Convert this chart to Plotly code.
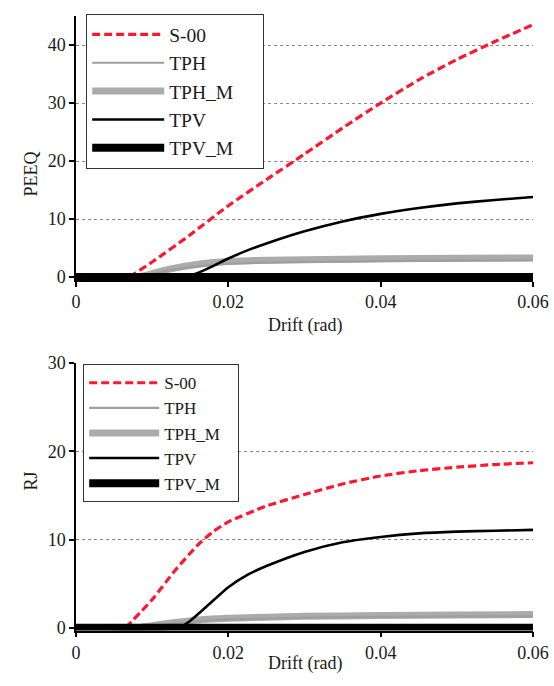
import plotly.graph_objects as go

# ---- Data ----
# Top panel: PEEQ vs drift
drift_s00_peeq = [0.007, 0.01, 0.015, 0.02, 0.025, 0.03, 0.035, 0.04, 0.045, 0.05, 0.055, 0.06]
peeq_s00 = [0, 2.6, 7.3, 12.3, 16.8, 21.2, 25.7, 30.0, 34.0, 37.5, 40.6, 43.5]

drift_tph_peeq = [0, 0.008, 0.01, 0.012, 0.015, 0.018, 0.02, 0.025, 0.03, 0.04, 0.05, 0.06]
peeq_tph = [0, 0, 0.5, 1.1, 1.7, 2.1, 2.3, 2.5, 2.6, 2.75, 2.85, 2.9]
peeq_tph_m = [0, 0, 0.6, 1.3, 2.0, 2.5, 2.7, 2.9, 3.0, 3.15, 3.25, 3.3]

drift_tpv_peeq = [0, 0.014, 0.016, 0.018, 0.02, 0.0225, 0.025, 0.03, 0.035, 0.04, 0.045, 0.05, 0.055, 0.06]
peeq_tpv = [0, 0, 0.7, 1.9, 3.2, 4.6, 5.8, 7.9, 9.6, 10.9, 11.9, 12.7, 13.3, 13.8]

drift_tpvm_peeq = [0, 0.06]
peeq_tpv_m = [0, 0]

# Bottom panel: RJ vs drift
drift_s00_rj = [0.0065, 0.01, 0.013, 0.016, 0.018, 0.02, 0.025, 0.03, 0.035, 0.04, 0.045, 0.05, 0.055, 0.06]
rj_s00 = [0, 3.2, 6.5, 9.4, 10.9, 12.0, 13.8, 15.1, 16.3, 17.2, 17.8, 18.2, 18.5, 18.7]

drift_tph_rj = [0, 0.008, 0.01, 0.013, 0.016, 0.02, 0.025, 0.03, 0.04, 0.05, 0.06]
rj_tph = [0, 0, 0.2, 0.5, 0.75, 0.95, 1.05, 1.15, 1.25, 1.3, 1.3]
rj_tph_m = [0, 0, 0.25, 0.6, 0.9, 1.1, 1.2, 1.3, 1.4, 1.45, 1.5]

drift_tpv_rj = [0, 0.0135, 0.015, 0.017, 0.02, 0.0225, 0.025, 0.03, 0.035, 0.04, 0.045, 0.05, 0.055, 0.06]
rj_tpv = [0, 0, 0.8, 2.3, 4.6, 6.0, 7.0, 8.6, 9.7, 10.3, 10.7, 10.9, 11.0, 11.1]

drift_tpvm_rj = [0, 0.06]
rj_tpv_m = [0, 0]

series_names = ["S-00", "TPH", "TPH_M", "TPV", "TPV_M"]
x_ticks = [0, 0.02, 0.04, 0.06]
x_tick_labels = ["0", "0.02", "0.04", "0.06"]

# ---- Styles ----
RED = "#ff1730"
GRAY_THIN = "#9e9e9e"
GRAY_THICK = "#ababab"
FONT = "Liberation Serif"
TXT = "#1a1a1a"

styles = {
    "S-00": dict(color=RED, width=3.2, dash="8px,4px", shape="spline", smoothing=0.6),
    "TPH": dict(color=GRAY_THIN, width=2.2, shape="spline", smoothing=0.5),
    "TPH_M": dict(color=GRAY_THICK, width=7, shape="spline", smoothing=0.5),
    "TPV": dict(color="black", width=2.6, shape="spline", smoothing=0.6),
    "TPV_M": dict(color="black", width=8),
}

fig = go.Figure()

top = {
    "S-00": (drift_s00_peeq, peeq_s00),
    "TPH": (drift_tph_peeq, peeq_tph),
    "TPH_M": (drift_tph_peeq, peeq_tph_m),
    "TPV": (drift_tpv_peeq, peeq_tpv),
    "TPV_M": (drift_tpvm_peeq, peeq_tpv_m),
}
bottom = {
    "S-00": (drift_s00_rj, rj_s00),
    "TPH": (drift_tph_rj, rj_tph),
    "TPH_M": (drift_tph_rj, rj_tph_m),
    "TPV": (drift_tpv_rj, rj_tpv),
    "TPV_M": (drift_tpvm_rj, rj_tpv_m),
}

draw_order = ["TPH_M", "TPH", "TPV", "S-00", "TPV_M"]
for name in draw_order:
    x, y = top[name]
    fig.add_trace(go.Scatter(x=x, y=y, mode="lines", name=name + "\u00a0" * 5,
                             line=styles[name], xaxis="x", yaxis="y",
                             legend="legend", legendrank=series_names.index(name) + 1))
for name in draw_order:
    x, y = bottom[name]
    fig.add_trace(go.Scatter(x=x, y=y, mode="lines", name=name + "\u00a0" * 3,
                             line=styles[name], xaxis="x2", yaxis="y2",
                             legend="legend2", legendrank=series_names.index(name) + 1))

W, H = 554, 686
xdom = [76 / W, 533 / W]
axis_common = dict(showline=True, linecolor="black", linewidth=1.5, ticks="outside",
                   ticklen=5, tickwidth=1.5, tickcolor="black", automargin=False,
                   tickfont=dict(family=FONT, size=18, color=TXT), zeroline=False)

fig.update_layout(
    template="none",
    width=W, height=H,
    margin=dict(l=0, r=0, t=0, b=0, pad=0),
    paper_bgcolor="white", plot_bgcolor="white",
    font=dict(family=FONT, color=TXT),
    xaxis=dict(domain=xdom, range=[0, 0.06], tickvals=x_ticks, ticktext=x_tick_labels,
               showgrid=False, anchor="y", **axis_common),
    yaxis=dict(domain=[1 - 280 / H, 1 - 16 / H], range=[-0.5, 45], tickvals=[0, 10, 20, 30, 40],
               showgrid=True, gridcolor="#8a8a8a", griddash="dot", gridwidth=1,
               anchor="x", **axis_common),
    xaxis2=dict(domain=xdom, range=[0, 0.06], tickvals=x_ticks, ticktext=x_tick_labels,
                showgrid=False, anchor="y2", **axis_common),
    yaxis2=dict(domain=[1 - 630.5 / H, 1 - 363 / H], range=[-0.3, 30], tickvals=[0, 10, 20, 30],
                showgrid=True, gridcolor="#8a8a8a", griddash="dot", gridwidth=1,
                anchor="x2", **axis_common),
    legend=dict(x=86 / W, y=1 - 14 / H, xanchor="left", yanchor="top",
                bgcolor="white", bordercolor="#333", borderwidth=1.2,
                font=dict(family=FONT, size=19.5, color=TXT), itemwidth=72,
                traceorder="normal"),
    legend2=dict(x=83 / W, y=1 - 364 / H, xanchor="left", yanchor="top",
                 bgcolor="white", bordercolor="#333", borderwidth=1.2,
                 font=dict(family=FONT, size=17, color=TXT), itemwidth=70,
                 traceorder="normal"),
    showlegend=True,
)

ann_font = dict(family=FONT, size=18, color=TXT)
fig.add_annotation(text="Drift (rad)", x=305 / W, y=1 - 325 / H, xref="paper", yref="paper",
                   showarrow=False, font=ann_font)
fig.add_annotation(text="Drift (rad)", x=305 / W, y=1 - 676 / H, xref="paper", yref="paper",
                   showarrow=False, font=ann_font)
fig.add_annotation(text="PEEQ", x=18 / W, y=1 - 150 / H, xref="paper", yref="paper",
                   showarrow=False, textangle=-90, font=ann_font)
fig.add_annotation(text="RJ", x=18 / W, y=1 - 493 / H, xref="paper", yref="paper",
                   showarrow=False, textangle=-90, font=ann_font)

fig.write_html("out.html")
